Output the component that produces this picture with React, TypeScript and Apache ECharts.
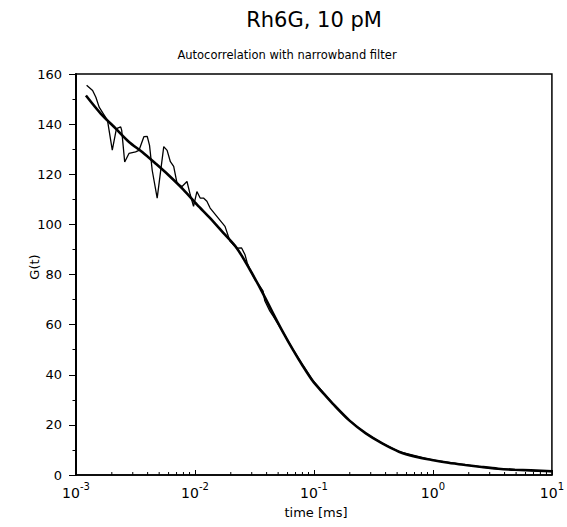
import React, { useEffect, useRef } from "react";
import * as echarts from "echarts";

// Measured autocorrelation (time in ms, G(t))
const dataTime = [
  1.228e-3, 1.379e-3, 1.469e-3, 1.565e-3, 1.839e-3, 2.018e-3, 2.187e-3, 2.376e-3,
  2.422e-3, 2.566e-3, 2.787e-3, 3.17e-3, 3.379e-3, 3.719e-3, 3.97e-3, 4.15e-3,
  4.37e-3, 4.812e-3, 5.465e-3, 5.832e-3, 6.214e-3, 6.622e-3, 7.069e-3, 7.78e-3,
  8.567e-3, 9.126e-3, 9.726e-3, 1.038e-2, 1.106e-2, 1.179e-2, 1.259e-2, 1.341e-2,
  1.788e-2, 1.97e-2, 2.24e-2, 2.466e-2, 2.628e-2, 2.75e-2, 2.893e-2, 3.185e-2,
  3.506e-2, 3.736e-2, 3.861e-2, 4.25e-2, 4.529e-2, 5.49e-2, 6.65e-2, 8.06e-2,
  9.77e-2, 0.1436, 0.198, 0.273, 0.375, 0.518, 0.98, 1.87, 3.54, 10,
];
const dataG = [
  155.5, 153.4, 150.7, 146.8, 141.5, 129.6, 138.2, 138.9,
  137.5, 124.9, 128.3, 128.9, 129.5, 135.0, 135.1, 131.5,
  121.6, 110.5, 131.0, 129.5, 125.0, 123.1, 116.4, 115.1,
  117.1, 111.8, 107.2, 113.1, 110.5, 110.5, 109.2, 106.5,
  99.2, 93.3, 90.5, 90.6, 88.0, 84.6, 82.1, 78.1,
  75.4, 73.4, 69.5, 65.5, 63.5, 57.0, 50.2, 43.8,
  37.8, 28.6, 21.8, 16.6, 12.6, 9.3, 6.0, 4.0, 2.4, 1.4,
];

// Fitted curve
const fitTime = [
  1.212e-3, 1.62e-3, 2.16e-3, 2.79e-3, 3.6e-3, 4.66e-3, 6.01e-3, 8.02e-3,
  1.04e-2, 1.34e-2, 1.73e-2, 2.24e-2, 2.89e-2, 3.74e-2, 4.53e-2,
  5.49e-2, 6.65e-2, 8.06e-2, 9.77e-2, 0.12, 0.1436, 0.198, 0.273, 0.375,
  0.518, 0.713, 0.98, 1.35, 1.87, 2.57, 3.54, 4.88, 10,
];
const fitG = [
  151.4, 144.1, 138.2, 132.9, 128.9, 124.3, 119.6, 113.8,
  107.9, 102.5, 96.6, 90.6, 82.0, 72.3, 64.5,
  57.0, 50.0, 43.5, 37.5, 32.6, 28.5, 21.8, 16.6, 12.6,
  9.3, 7.3, 6.0, 4.9, 4.0, 3.2, 2.5, 2.1, 1.5,
];

const yTicks = { min: 0, max: 160, interval: 20 };
const xDecades = [-3, -2, -1, 0];
const minorMultipliers = [2, 3, 4, 5, 6, 7, 8, 9];

const FONT = "DejaVu Sans";

export default function App() {
  const ref = useRef<HTMLDivElement>(null);
  useEffect(() => {
    document.body.style.margin = "0";
    if (!ref.current) return;
    const chart = echarts.init(ref.current, undefined, { renderer: "svg" });

    const minorTicks: number[][] = [];
    xDecades.forEach((d) =>
      minorMultipliers.forEach((m) => minorTicks.push([m * Math.pow(10, d), 0]))
    );

    chart.setOption({
      animation: false,
      backgroundColor: "#fff",
      grid: {
        left: 76,
        top: 74,
        width: 479,
        height: 401,
        show: true,
        borderColor: "#000",
        borderWidth: 1.5,
      },
      xAxis: {
        type: "log",
        logBase: 10,
        min: 0.001,
        max: 10,
        axisLine: { show: true, lineStyle: { color: "#000", width: 1.5 } },
        axisTick: { show: true, inside: true, length: 5, lineStyle: { color: "#000", width: 1 } },
        splitLine: { show: false },
        axisLabel: {
          margin: 6,
          color: "#000",
          formatter: (v: number) => `{b|10}{s|${Math.round(Math.log10(v))}}`,
          rich: {
            b: { fontFamily: FONT, fontSize: 14, color: "#000", verticalAlign: "bottom", lineHeight: 19 },
            s: { fontFamily: FONT, fontSize: 10, color: "#000", verticalAlign: "top", lineHeight: 10 },
          },
        },
      },
      yAxis: {
        type: "value",
        min: yTicks.min,
        max: yTicks.max,
        interval: yTicks.interval,
        axisLine: { show: true, lineStyle: { color: "#000", width: 2 } },
        axisTick: { show: true, inside: false, length: 7, lineStyle: { color: "#000", width: 1 } },
        minorTick: { show: true, splitNumber: 2, length: 3.5, lineStyle: { color: "#000", width: 1 } },
        splitLine: { show: false },
        axisLabel: { margin: 14, color: "#000", fontFamily: FONT, fontSize: 13 },
      },
      series: [
        {
          type: "line",
          data: dataTime.map((t, i) => [t, dataG[i]]),
          showSymbol: false,
          lineStyle: { color: "#000", width: 1.3 },
          z: 2,
        },
        {
          type: "line",
          data: fitTime.map((t, i) => [t, fitG[i]]),
          showSymbol: false,
          smooth: 0.3,
          lineStyle: { color: "#000", width: 2.6 },
          z: 3,
        },
        {
          type: "custom",
          data: minorTicks,
          clip: false,
          silent: true,
          renderItem: (params: any, api: any) => {
            const p = api.coord([api.value(0), 0]);
            return {
              type: "line",
              shape: { x1: p[0], y1: p[1], x2: p[0], y2: p[1] - 3 },
              style: { stroke: "#000", lineWidth: 1 },
            };
          },
          z: 4,
        },
      ],
      graphic: [
        {
          type: "text",
          x: 314,
          y: 20,
          style: { text: "Rh6G, 10 pM", fontFamily: FONT, fontSize: 21, fill: "#000", align: "center", verticalAlign: "middle" },
        },
        {
          type: "text",
          x: 287,
          y: 55,
          style: { text: "Autocorrelation with narrowband filter", fontFamily: FONT, fontSize: 11.5, fill: "#000", align: "center", verticalAlign: "middle" },
        },
        {
          type: "text",
          x: 34,
          y: 267,
          rotation: Math.PI / 2,
          style: { text: "G(t)", fontFamily: FONT, fontSize: 13, fill: "#000", align: "center", verticalAlign: "middle" },
        },
        {
          type: "text",
          x: 316,
          y: 512,
          style: { text: "time [ms]", fontFamily: FONT, fontSize: 13, fill: "#000", align: "center", verticalAlign: "middle" },
        },
      ],
    });
    return () => chart.dispose();
  }, []);
  return <div ref={ref} style={{ width: 567, height: 527 }} />;
}
